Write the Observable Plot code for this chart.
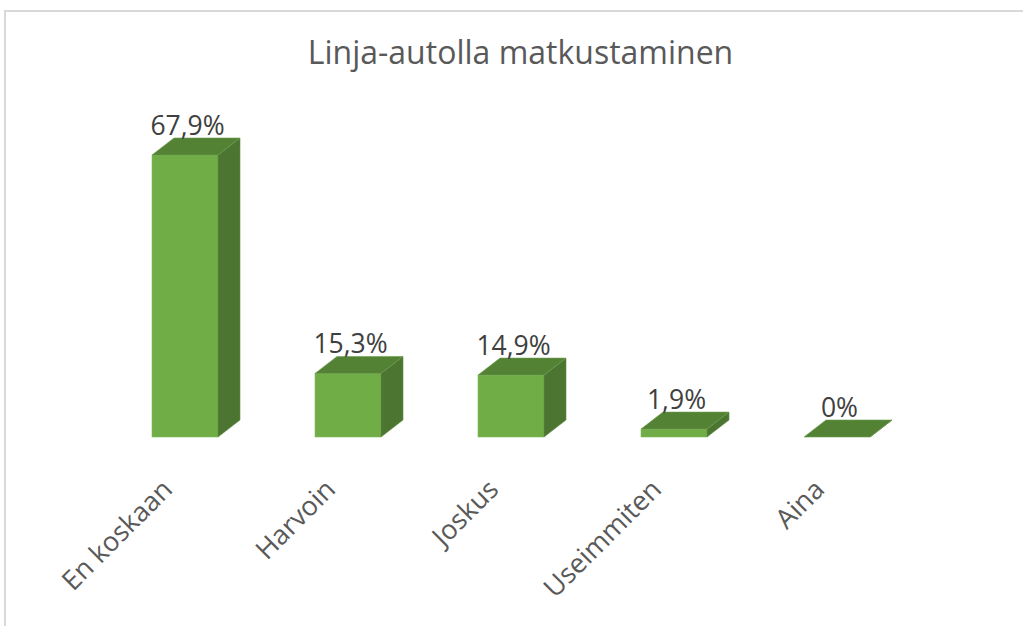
<!DOCTYPE html>
<html>
<head>
<meta charset="utf-8">
<script src="https://cdn.jsdelivr.net/npm/d3@7"></script>
<script src="https://cdn.jsdelivr.net/npm/@observablehq/plot@0.6"></script>
<style>
  html, body { margin: 0; padding: 0; background: #fff; overflow: hidden; }
  #wrap { position: relative; width: 1023px; height: 626px; }
  #border { position: absolute; left: 4px; top: 10px; width: 1100px; height: 700px;
            border: 2px solid #d9d9d9; box-sizing: border-box; pointer-events: none; z-index: 2; }
  #title { position: absolute; left: 0; width: 1041px; top: 36px; text-align: center;
           font-family: "Open Sans", sans-serif; font-size: 32px; line-height: 32px; color: #595959; z-index: 3; }
  #chart { position: absolute; left: 0; top: 0; }
</style>
</head>
<body>
<div id="wrap">
  <div id="chart"></div>
  <div id="border"></div>
  <div id="title"></div>
</div>
<script>
const title = "Linja-autolla matkustaminen";
const categories = ["En koskaan", "Harvoin", "Joskus", "Useimmiten", "Aina"];
const values = [67.9, 15.3, 14.9, 1.9, 0];

const data = categories.map((c, i) => ({category: c, value: values[i]}));
const fmt = v => String(v).replace(".", ",") + "%";

const DX = 22, DY = 17; // 3D depth offset (style)

function faces(index, scales) {
  const g = d3.create("svg:g");
  const bw = scales.x.bandwidth();
  for (const d of data) {
    const x0 = scales.x(d.category), x1 = x0 + bw;
    const yT = scales.y(d.value), yB = scales.y(0);
    g.append("polygon")
      .attr("points", [[x1, yT], [x1 + DX, yT - DY], [x1 + DX, yB - DY], [x1, yB]].map(p => p.join(",")).join(" "))
      .attr("fill", "#4b7530").attr("stroke", "#5f8f42").attr("stroke-width", 0.6);
    g.append("polygon")
      .attr("points", [[x0, yT], [x1, yT], [x1 + DX, yT - DY], [x0 + DX, yT - DY]].map(p => p.join(",")).join(" "))
      .attr("fill", "#548235").attr("stroke", "#6a9a4c").attr("stroke-width", 0.6);
  }
  return g.node();
}

const chart = Plot.plot({
  width: 1023,
  height: 626,
  marginLeft: 103.5,
  marginRight: 104.5,
  marginTop: 155,
  marginBottom: 189,
  style: {background: "none", fontFamily: "Open Sans, sans-serif"},
  x: {domain: categories, paddingInner: 0.595, paddingOuter: 0.2975, axis: null},
  y: {domain: [0, 67.9], axis: null},
  marks: [
    Plot.barY(data, {x: "category", y: "value", fill: "#70ad47", stroke: "#80bb5a", strokeWidth: 0.6}),
    faces,
    Plot.text(data, {x: "category", y: "value", text: d => fmt(d.value), dx: 2, dy: -21, lineAnchor: "bottom",
      fontSize: 26.5, fill: "#404040"}),
    Plot.text(data, {x: "category", y: () => 0, text: "category", rotate: -45, textAnchor: "end",
      lineAnchor: "top", dx: -25, dy: 40, fontSize: 27, fill: "#595959"})
  ]
});
document.getElementById("chart").appendChild(chart);
document.getElementById("title").textContent = title;
</script>
</body>
</html>
